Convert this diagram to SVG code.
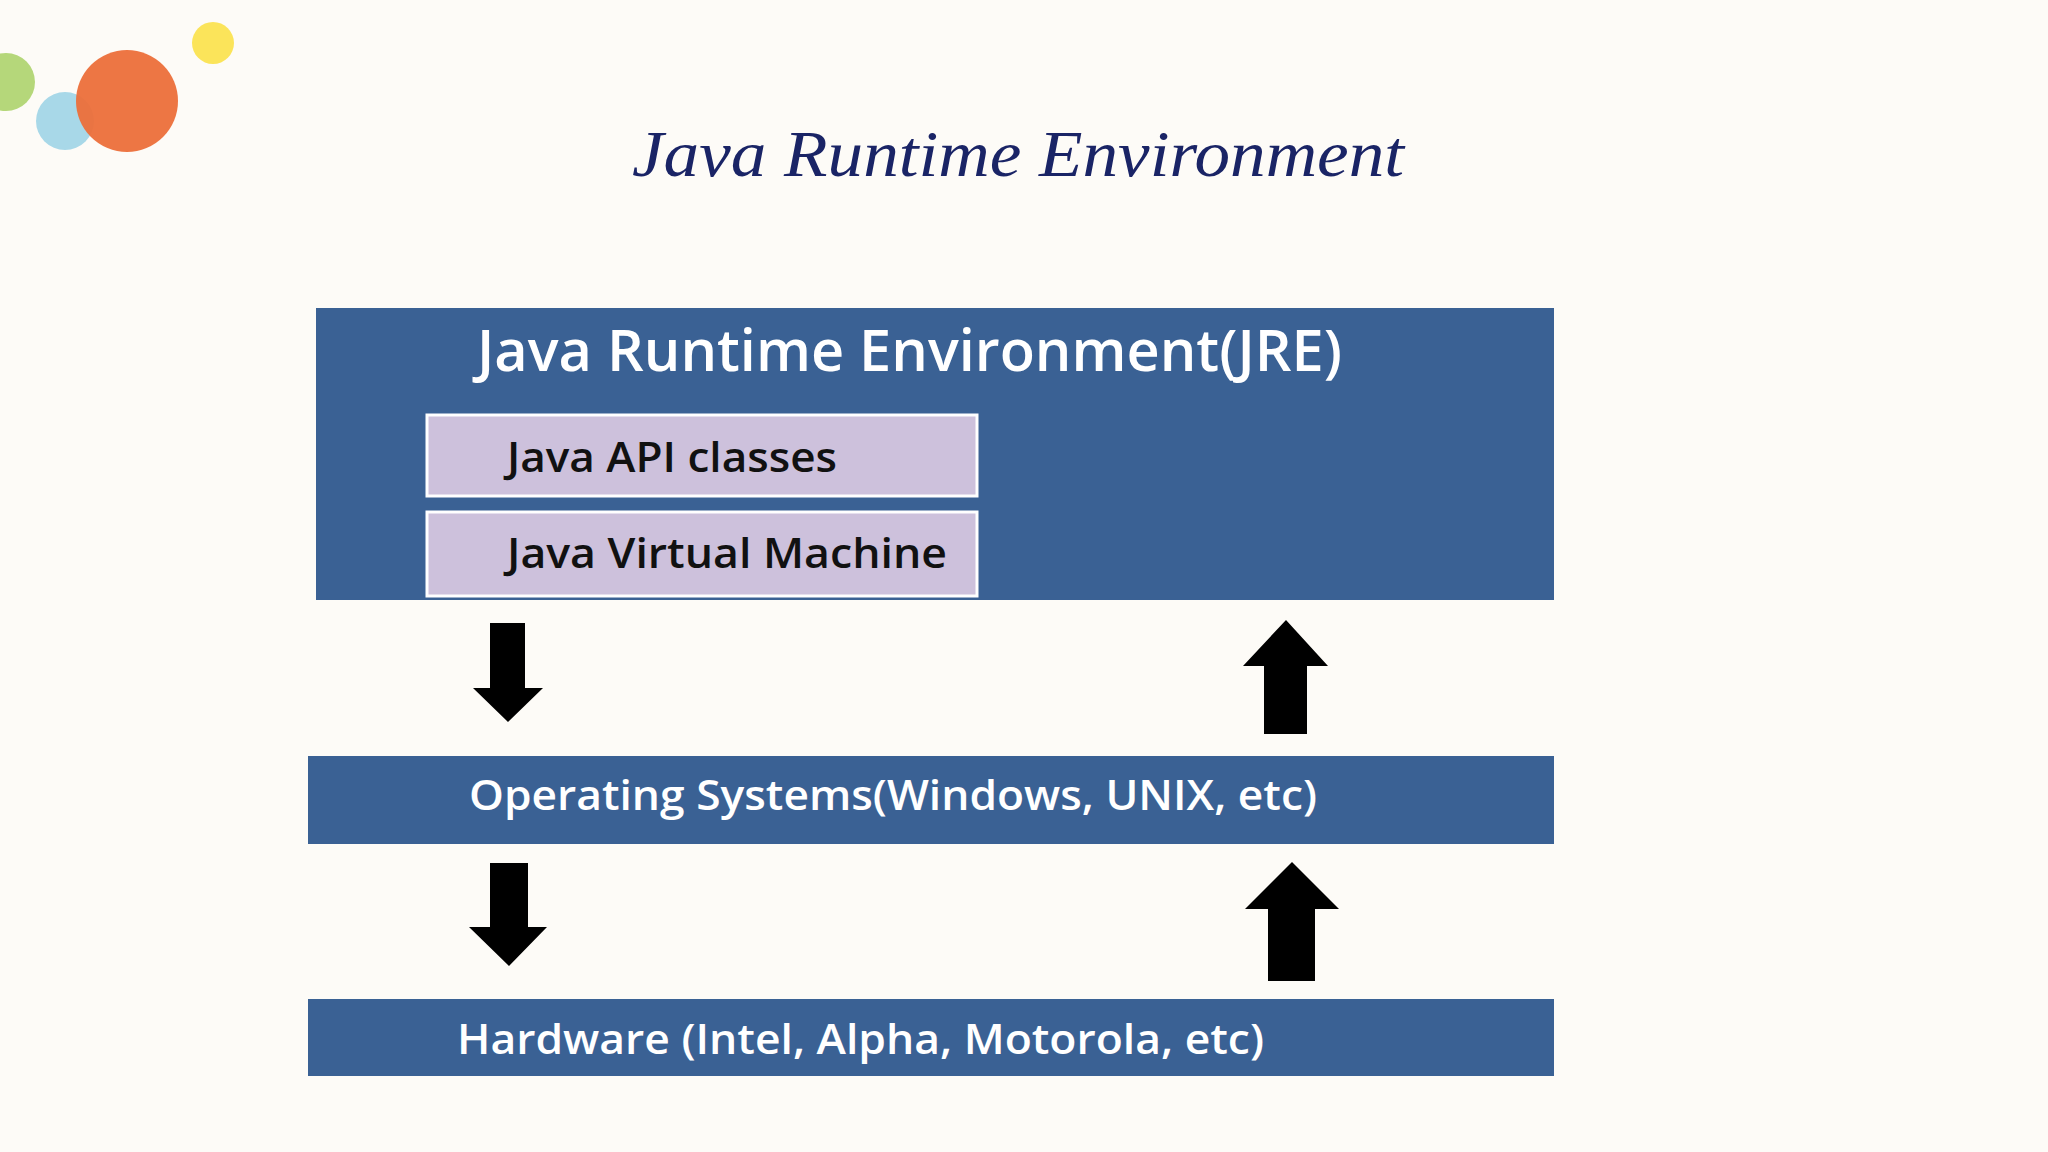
<svg xmlns="http://www.w3.org/2000/svg" width="2048" height="1152" viewBox="0 0 2048 1152">
<style>
.band{fill:#3a6194}
.sub{fill:#cdc1dc;stroke:#ffffff;stroke-width:3}
.wt{font-family:"Open Sans","Liberation Sans",sans-serif;fill:#ffffff;font-weight:600}
.bt{font-family:"Open Sans","Liberation Sans",sans-serif;fill:#111111;font-weight:600}
.arr{fill:#000000}
</style>
<rect width="2048" height="1152" fill="#fdfbf7"/>
<circle cx="6" cy="82" r="29" fill="#b5d77a"/>
<circle cx="65" cy="121" r="29" fill="#a8d8e8"/>
<circle cx="127" cy="101" r="51" fill="#ec6f3a" opacity="0.95"/>
<circle cx="213" cy="43" r="21" fill="#fbe45a"/>
<text x="632" y="176" font-family="Liberation Serif,serif" font-style="italic" font-size="66" fill="#1a2466" textLength="772" lengthAdjust="spacingAndGlyphs">Java Runtime Environment</text>
<g id="jre">
<rect class="band" x="316" y="308" width="1238" height="292"/>
<text class="wt" x="477" y="371" font-size="58" font-weight="400" textLength="865" lengthAdjust="spacingAndGlyphs">Java Runtime Environment(JRE)</text>
</g>
<g id="api">
<rect class="sub" x="427" y="415" width="550" height="81"/>
<text class="bt" x="507" y="472" font-size="42" textLength="330" lengthAdjust="spacingAndGlyphs">Java API classes</text>
</g>
<g id="jvm">
<rect class="sub" x="427" y="512" width="550" height="84"/>
<text class="bt" x="507" y="568" font-size="42" textLength="440" lengthAdjust="spacingAndGlyphs">Java Virtual Machine</text>
</g>
<g id="os">
<rect class="band" x="308" y="756" width="1246" height="88"/>
<text class="wt" x="469" y="810" font-size="42" textLength="848" lengthAdjust="spacingAndGlyphs">Operating Systems(Windows, UNIX, etc)</text>
</g>
<g id="hw">
<rect class="band" x="308" y="999" width="1246" height="77"/>
<text class="wt" x="457" y="1054" font-size="42" textLength="807" lengthAdjust="spacingAndGlyphs">Hardware (Intel, Alpha, Motorola, etc)</text>
</g>
<g id="connectors">
<polygon class="arr" points="490,623 525,623 525,688 543,688 508,722 473,688 490,688"/>
<polygon class="arr" points="1264,734 1307,734 1307,666 1328,666 1286,620 1243,666 1264,666"/>
<polygon class="arr" points="490,863 528,863 528,927 547,927 509,966 469,927 490,927"/>
<polygon class="arr" points="1268,981 1315,981 1315,909 1339,909 1292,862 1245,909 1268,909"/>
</g>
</svg>
